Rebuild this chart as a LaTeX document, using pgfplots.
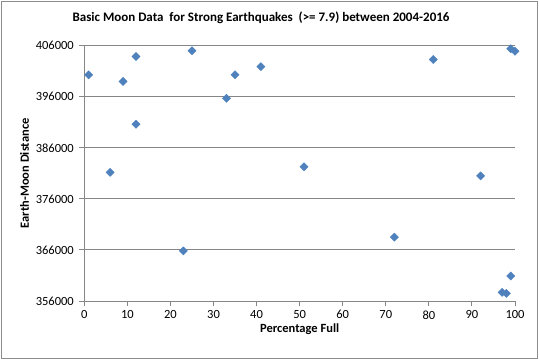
\documentclass[border=0pt]{standalone}
\usepackage{pgfplots}
\pgfplotsset{compat=1.18}
\usepackage{fontspec}
\setmainfont{Carlito}
\definecolor{gridgray}{HTML}{868686}
\definecolor{frame}{HTML}{8C8C8C}
\definecolor{markblue}{HTML}{4F81BD}
\begin{document}
\begin{tikzpicture}[x=1pt,y=1pt]
\useasboundingbox (0,0) rectangle (540,361);
\draw[frame,line width=0.9pt] (1.5,3) rectangle (537.5,359.5);
\node[font=\fontsize{13}{15}\selectfont\bfseries] at (261,343) {Basic Moon Data\ \ for Strong Earthquakes\ \ (>= 7.9) between 2004-2016};
\begin{axis}[
  at={(84.3pt,60pt)}, anchor=south west,
  scale only axis, width=430.7pt, height=255.3pt,
  xmin=0, xmax=100, ymin=356000, ymax=406000,
  xtick={0,10,20,30,40,50,60,70,80,90,100},
  xticklabels={0,10,20,30,40,50,60,70,80,90,100},
  ytick={356000,366000,376000,386000,396000,406000},
  yticklabels={356000,366000,376000,386000,396000,406000},
  axis lines=left, axis line style={-, gridgray, line width=0.9pt},
  tick align=outside, major tick length=5pt,
  tick style={gridgray, line width=0.9pt},
  ymajorgrids, grid style={gridgray, line width=0.9pt},
  scaled y ticks=false, scaled x ticks=false,
  ticklabel style={font=\fontsize{12.5}{14}\selectfont},
  yticklabel style={xshift=-2pt},
  xticklabel style={yshift=-1pt},
  xlabel={Percentage Full}, ylabel={Earth-Moon Distance},
  label style={font=\fontsize{12.5}{14}\selectfont\bfseries},
  xlabel style={yshift=2pt},
  ylabel style={yshift=0pt},
  clip=false,
]
\addplot[only marks, mark=square*, mark size=2.9pt,
  mark options={rotate=45, fill=markblue, draw=markblue}] coordinates {
(1,400300)
(6,381200)
(9,399000)
(12,403900)
(12,390600)
(23,365800)
(25,405000)
(33,395700)
(35,400300)
(41,401900)
(51,382300)
(72,368500)
(81,403300)
(92,380500)
(97,357700)
(98,357500)
(99,360900)
(99,405400)
(100,404900)
};
\end{axis}
\end{tikzpicture}
\end{document}
